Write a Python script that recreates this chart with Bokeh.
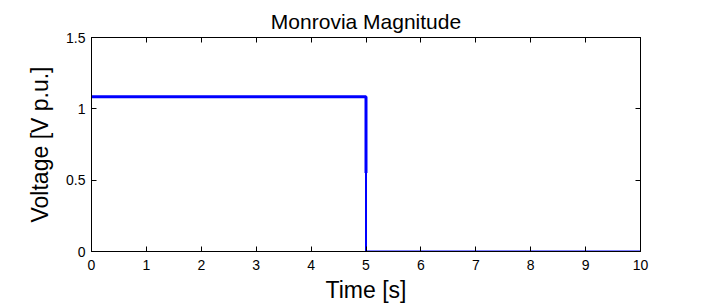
from bokeh.plotting import figure
from bokeh.models import Range1d, LinearAxis, FixedTicker, CustomJSTickFormatter
from bokeh.embed import file_html
from bokeh.resources import INLINE

# data
t_pre = [0, 5, 5]
v_pre = [1.085, 1.085, 0.55]
t_post = [5, 5, 10]
v_post = [0.55, 0.0, 0.0]
x_ticks = [0, 1, 2, 3, 4, 5, 6, 7, 8, 9, 10]
y_ticks = [0, 0.5, 1, 1.5]

p = figure(width=706, height=308, output_backend="svg", toolbar_location=None,
           x_range=Range1d(0, 10), y_range=Range1d(0, 1.5),
           title="Monrovia Magnitude",
           min_border_left=91, min_border_right=66, min_border_top=37, min_border_bottom=57)
p.background_fill_color = "white"
p.border_fill_color = "white"
p.outline_line_color = "black"
p.outline_line_width = 1
p.xgrid.visible = False
p.ygrid.visible = False

p.title.align = "center"
p.title.vertical_align = "top"
p.title.text_font = "Liberation Sans"
p.title.text_font_style = "normal"
p.title.text_font_size = "21px"
p.title.text_color = "black"
p.title.standoff = 6

p.line(t_pre, v_pre, line_color="#0000ff", line_width=3)
p.line(t_post, v_post, line_color="#0000ff", line_width=2)

def style(ax, labels=True):
    ax.axis_line_color = "black"
    ax.major_tick_in = 5
    ax.major_tick_out = 0
    ax.minor_tick_in = 0
    ax.minor_tick_out = 0
    ax.major_tick_line_color = "black"
    ax.major_label_text_font = "Liberation Sans"
    ax.major_label_text_font_size = "14px"
    ax.major_label_text_color = "black"
    ax.axis_label_text_font = "Liberation Sans"
    ax.axis_label_text_font_size = "23px"
    ax.axis_label_text_font_style = "normal"
    ax.axis_label_text_color = "black"
    if not labels:
        ax.formatter = CustomJSTickFormatter(code="return ''")
        ax.major_label_standoff = 0

p.xaxis.ticker = FixedTicker(ticks=x_ticks)
p.yaxis.ticker = FixedTicker(ticks=y_ticks)
p.xaxis.axis_label = "Time [s]"
p.yaxis.axis_label = "Voltage [V p.u.]"
style(p.xaxis[0])
style(p.yaxis[0])
p.xaxis.major_label_standoff = 8
p.yaxis.major_label_standoff = 6
p.xaxis.axis_label_standoff = 4
p.yaxis.axis_label_standoff = 10

top = LinearAxis(ticker=FixedTicker(ticks=x_ticks))
style(top, labels=False)
p.add_layout(top, "above")
right = LinearAxis(ticker=FixedTicker(ticks=y_ticks))
style(right, labels=False)
p.add_layout(right, "right")

open("out.html", "w").write(file_html(p, INLINE))
